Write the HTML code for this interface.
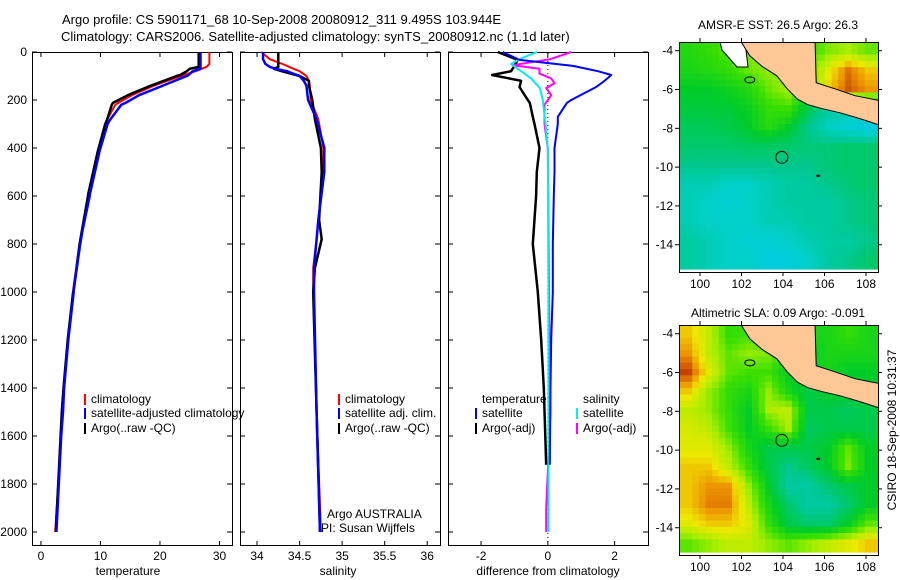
<!DOCTYPE html>
<html><head><meta charset="utf-8">
<style>
body{margin:0;background:#fff;}
svg{display:block;font-family:"Liberation Sans",sans-serif;font-size:12px;}
</style></head>
<body>
<svg id="fig" width="900" height="580" viewBox="0 0 900 580" xmlns="http://www.w3.org/2000/svg">
<text x="62" y="24" font-size="13">Argo profile: CS 5901171_68 10-Sep-2008 20080912_311 9.495S 103.944E</text>
<text x="61" y="41" font-size="13">Climatology: CARS2006. Satellite-adjusted climatology: synTS_20080912.nc (1.1d later)</text>
<text x="778" y="29" text-anchor="middle">AMSR-E SST: 26.5 Argo: 26.3</text>
<text x="778" y="317" text-anchor="middle">Altimetric SLA: 0.09 Argo: -0.091</text>
<text transform="translate(896,430) rotate(-90)" text-anchor="middle">CSIRO 18-Sep-2008 10:31:37</text>
<g id="plots"></g>
</svg>
<script>
// ---- profile data (depth in m) ----
const tDepth = [0, 50, 62, 70, 80, 96, 100, 137, 140, 180, 212, 220, 283, 300, 400, 408, 596, 600, 742, 800, 992, 1000, 1200, 1400, 1500, 1600, 1800, 2000];
const tArgo  = [26.5,26.5,26.5,25,24.5,23.4,22.8,18.8,18.5,14.6,12.1,11.9,11.1,10.8,9.7,9.6,7.9,7.9,6.9,6.5,5.5,5.4,4.5,3.8,3.5,3.3,2.9,2.5];
const tClim  = [28.3,28.3,27.8,27,26,24,23.5,19.3,19,15.3,13,12.5,11.1,10.9,9.7,9.6,8.0,8.0,6.9,6.5,5.4,5.4,4.6,3.9,3.6,3.3,2.9,2.4];
const tSat   = [26.8,26.8,26.8,26.8,25.5,24.8,24.5,20.8,20.5,16.5,14.2,13.5,11.6,11.2,10.0,9.9,8.2,8.2,7.0,6.6,5.5,5.5,4.6,3.9,3.7,3.4,3.0,2.6];

const sDepth = [0, 30, 50, 62, 70, 80, 100, 120, 140, 200, 280, 400, 500, 700, 780, 900, 1000, 1500, 2000];
const sArgo  = [34.25,34.25,34.25,34.25,34.2,34.29,34.5,34.61,34.61,34.65,34.68,34.75,34.76,34.73,34.76,34.68,34.66,34.70,34.74];
const sClim  = [34.05,34.15,34.3,34.38,34.43,34.5,34.58,34.61,34.62,34.63,34.72,34.78,34.78,34.72,34.70,34.66,34.66,34.70,34.75];
const sSat   = [34.07,34.07,34.1,34.15,34.22,34.35,34.5,34.55,34.58,34.6,34.7,34.79,34.79,34.72,34.70,34.67,34.67,34.70,34.74];

const dDepth   = [0, 33, 58, 80, 96, 120, 146, 200, 212, 270, 300, 400, 500, 600, 800, 1000, 1200, 1400, 1720];
const dTempSat = [-1.35,-0.85,0.75,1.5,1.9,1.7,1.45,0.7,0.57,0.3,0.3,0.2,0.2,0.18,0.15,0.15,0.1,0.08,0.06];
const dTempArgo= [-1.5,-0.9,-1.0,-1.1,-1.67,-0.8,-0.85,-0.6,-0.54,-0.45,-0.4,-0.25,-0.33,-0.35,-0.45,-0.3,-0.2,-0.12,-0.05];
const dSalDepth= [0, 30, 50, 80, 110, 150, 200, 300, 400, 1000, 2000];
const dSalSat  = [-0.33,-0.85,-1.1,-0.8,-0.5,-0.24,-0.15,-0.07,0.0,0.02,0.02];
const dSalArgoDepth=[0, 30, 55, 70, 90, 110, 130, 150, 180, 220, 300, 400, 1200, 1500, 1900, 2000];
const dSalArgo = [0.7,0.07,-1.05,-0.25,-0.25,0.1,0.2,-0.05,0.1,-0.1,-0.1,0,0.05,0.08,-0.05,-0.05];

// ---- axis tick labels ----
const depthTicks = [0,200,400,600,800,1000,1200,1400,1600,1800,2000];
const tTicks = [0,10,20,30];
const sTicks = ["34","34.5","35","35.5","36"];
const dTicks = [-2,0,2];
const latTicks = [-4,-6,-8,-10,-12,-14];
const lonTicks = [100,102,104,106,108];

// ---- map grids (normalized colour values, rows north->south, cols west->east) ----
const sstGrid = [
[0.57,0.6,0.65,0.68,0.72,0.7,0.6,0.68,0.72,0.66],
[0.55,0.57,0.6,0.66,0.7,0.7,0.65,0.8,0.93,0.85],
[0.5,0.5,0.53,0.57,0.66,0.72,0.6,0.85,0.95,0.9],
[0.47,0.47,0.48,0.52,0.6,0.62,0.45,0.3,0.3,0.25],
[0.43,0.43,0.45,0.5,0.58,0.5,0.35,0.22,0.15,0.1],
[0.4,0.4,0.4,0.42,0.42,0.4,0.38,0.38,0.4,0.4],
[0.35,0.35,0.35,0.35,0.35,0.35,0.35,0.38,0.4,0.4],
[0.25,0.25,0.2,0.2,0.25,0.3,0.3,0.35,0.38,0.4],
[0.25,0.2,0.15,0.2,0.25,0.3,0.3,0.3,0.35,0.38],
[0.25,0.2,0.2,0.2,0.25,0.25,0.3,0.3,0.35,0.38],
[0.3,0.25,0.2,0.15,0.15,0.2,0.25,0.3,0.3,0.35],
[0.3,0.25,0.2,0.2,0.1,0.1,0.2,0.3,0.35,0.4]];
const slaGrid = [
[0.85,0.75,0.6,0.62,0.6,0.55,0.55,0.55,0.6,0.55],
[0.9,0.75,0.65,0.7,0.68,0.6,0.5,0.55,0.55,0.55],
[0.97,0.8,0.65,0.62,0.62,0.5,0.5,0.55,0.5,0.5],
[0.85,0.7,0.6,0.55,0.7,0.55,0.45,0.5,0.5,0.5],
[0.75,0.7,0.6,0.5,0.72,0.75,0.45,0.45,0.42,0.45],
[0.78,0.75,0.62,0.5,0.6,0.72,0.42,0.45,0.45,0.45],
[0.8,0.8,0.7,0.55,0.45,0.45,0.45,0.5,0.65,0.5],
[0.85,0.85,0.75,0.6,0.45,0.35,0.42,0.5,0.68,0.5],
[0.85,0.9,0.9,0.7,0.5,0.3,0.3,0.4,0.45,0.5],
[0.85,0.92,0.92,0.75,0.55,0.4,0.3,0.3,0.4,0.5],
[0.8,0.85,0.85,0.8,0.6,0.45,0.4,0.4,0.5,0.65],
[0.65,0.7,0.75,0.75,0.7,0.65,0.7,0.75,0.8,0.85]];
const landLonLat = [[101.9,-3.4],[102.4,-4.26],[103,-4.82],[103.7,-5.29],[104.2,-5.96],[104.7,-6.5],[105.2,-6.78],[105.9,-6.99],[106.75,-7.2],[107.7,-7.5],[108.7,-7.85],[108.7,-6.58],[107.47,-6.32],[106.5,-5.96],[105.6,-5.65],[105.54,-3.4]];
const argoPos = [103.944,-9.495];

const NS='http://www.w3.org/2000/svg';
const root=document.getElementById('plots');
function mk(tag,attrs,parent){const e=document.createElementNS(NS,tag);for(const k in attrs)e.setAttribute(k,attrs[k]);(parent||root).appendChild(e);return e;}
const yD = d => 52 + d*0.24;
function panel(name,x0,x1,xmin,xmax){
  const sx = v => x0 + (v-xmin)/(xmax-xmin)*(x1-x0);
  const g=mk('g',{});
  
  
  return {sx,g,x0,x1};
}
function frame(p,name){
  const r=mk('rect',{x:p.x0+.5,y:52.5,width:p.x1-p.x0,height:493,fill:'none',stroke:'#000'},p.g);
  
  
}
function line(p,ds,vs,color,w,name){
  const pts=ds.map((d,i)=>p.sx(vs[i]).toFixed(1)+','+yD(d).toFixed(1)).join(' ');
  const l=mk('polyline',{points:pts,fill:'none',stroke:color,'stroke-width':w,'stroke-linejoin':'round'},p.g);
  
  
}
function txt(s,x,y,anchor,parent,name){
  const t=mk('text',{x:x,y:y,'text-anchor':anchor||'start'},parent);t.textContent=s;
  
  
  return t;
}
function xticks(p,vals,labels,name){
  vals.forEach((v,i)=>{const x=p.sx(v);
    mk('line',{x1:x,x2:x,y1:545,y2:541,stroke:'#000'},p.g);
    mk('line',{x1:x,x2:x,y1:53,y2:57,stroke:'#000'},p.g);
    txt(labels[i],x,560,'middle',p.g,name);});
}
function yticks(p){
  depthTicks.forEach(d=>{const y=yD(d);
    mk('line',{x1:p.x0,x2:p.x0+5,y1:y,y2:y,stroke:'#000'},p.g);
    mk('line',{x1:p.x1,x2:p.x1-5,y1:y,y2:y,stroke:'#000'},p.g);});
}
function legend(p,x,y,color,label,name){
  mk('rect',{x:x,y:y-9,width:2,height:11,fill:color},p.g);
  txt(label,x+7,y,'start',p.g,name);
}
// panel 1: temperature
const p1=panel('temperature-panel',32,232,-1.5,32.1);
frame(p1,'temperature-axes');
yticks(p1);
depthTicks.forEach(d=>txt(String(d),27,yD(d)+4,'end',p1.g,'depth-tick-label'));
xticks(p1,tTicks,tTicks.map(String),'temperature-tick-label');
txt('temperature',128,575,'middle',p1.g,'temperature-axis-title');
line(p1,tDepth,tClim,'#f00',2,'temperature-climatology-line');
line(p1,tDepth,tArgo,'#000',2.5,'temperature-argo-line');
line(p1,tDepth,tSat,'#00f',2.5,'temperature-satellite-line');
legend(p1,84,403,'#f00','climatology','legend-climatology');
legend(p1,84,417,'#00f','satellite-adjusted climatology','legend-satellite-adjusted');
legend(p1,84,432,'#000','Argo(..raw -QC)','legend-argo');
// panel 2: salinity
const p2=panel('salinity-panel',240,440,33.8,36.15);
frame(p2,'salinity-axes');
yticks(p2);
xticks(p2,sTicks.map(Number),sTicks,'salinity-tick-label');
txt('salinity',338,575,'middle',p2.g,'salinity-axis-title');
line(p2,sDepth,sClim,'#f00',2,'salinity-climatology-line');
line(p2,sDepth,sArgo,'#000',2.5,'salinity-argo-line');
line(p2,sDepth,sSat,'#00f',2.5,'salinity-satellite-line');
legend(p2,338,403,'#f00','climatology','legend-sal-climatology');
legend(p2,338,417,'#00f','satellite adj. clim.','legend-sal-satellite');
legend(p2,338,432,'#000','Argo(..raw -QC)','legend-sal-argo');
txt('Argo AUSTRALIA',327,518,'start',p2.g,'argo-australia-label');
txt('PI: Susan Wijffels',321,532,'start',p2.g,'pi-label');
// panel 3: difference
const p3=panel('difference-panel',448,648,-2.99,3.0);
frame(p3,'difference-axes');
yticks(p3);
mk('line',{x1:p3.sx(0),x2:p3.sx(0),y1:53,y2:545,stroke:'#000','stroke-dasharray':'1,3'},p3.g);
xticks(p3,dTicks,dTicks.map(String),'difference-tick-label');
txt('difference from climatology',548,575,'middle',p3.g,'difference-axis-title');
line(p3,dDepth,dTempArgo,'#000',2.5,'diff-temp-argo-line');
line(p3,dSalArgoDepth,dSalArgo,'#f0f',2,'diff-sal-argo-line');
line(p3,dSalDepth,dSalSat,'#0ee',2,'diff-sal-satellite-line');
line(p3,dDepth,dTempSat,'#00f',2,'diff-temp-satellite-line');
txt('temperature',482,403,'start',p3.g,'legend-temperature-header');
txt('salinity',583,403,'start',p3.g,'legend-salinity-header');
legend(p3,475,417,'#00f','satellite','legend-temp-satellite');
legend(p3,475,432,'#000','Argo(-adj)','legend-temp-argo');
legend(p3,576,417,'#0ee','satellite','legend-sal-satellite-diff');
legend(p3,576,432,'#f0f','Argo(-adj)','legend-sal-argo-diff');

// ---- maps ----
function cmap(v){
  const stops=[[0,[0,200,240]],[0.2,[0,208,200]],[0.35,[0,200,140]],[0.5,[0,204,40]],[0.62,[60,224,0]],[0.72,[170,238,0]],[0.82,[238,232,0]],[0.9,[238,150,0]],[1,[180,30,0]]];
  for(let i=1;i<stops.length;i++){if(v<=stops[i][0]){const a=stops[i-1],b=stops[i],t=(v-a[0])/(b[0]-a[0]);
    return 'rgb('+a[1].map((c,k)=>Math.round(c+(b[1][k]-c)*t)).join(',')+')';}}
  return 'rgb(180,30,0)';
}
function sample(grid,fr,fc){
  const R=grid.length,C=grid[0].length;
  let r=Math.max(0,Math.min(R-1,fr)),c=Math.max(0,Math.min(C-1,fc));
  const r0=Math.floor(r),c0=Math.floor(c),r1=Math.min(R-1,r0+1),c1=Math.min(C-1,c0+1),tr=r-r0,tc=c-c0;
  return grid[r0][c0]*(1-tr)*(1-tc)+grid[r0][c1]*(1-tr)*tc+grid[r1][c0]*tr*(1-tc)+grid[r1][c1]*tr*tc;
}
function mapPlot(name,top,grid,white){
  const x0=679,x1=878,bottom=top+230;
  const lonToX=l=>700+(l-100)*20.75;
  const lat0=-3.55;
  const latToY=la=>top+(lat0-la)*19.4;
  const g=mk('g',{});
  
  
  const cp=mk('clipPath',{id:name+'-clip'},g);
  mk('rect',{x:x0,y:top,width:x1-x0,height:bottom-top},cp);
  const inner=mk('g',{'clip-path':'url(#'+name+'-clip)'},g);
  const rows=grid.length,cols=grid[0].length,sub=3;
  const nr=rows*sub,nc=cols*sub,cw=(x1-x0)/nc,ch=(bottom-top-3)/nr;
  for(let r=0;r<nr;r++)for(let c=0;c<nc;c++){
    const v=sample(grid,(r+0.5)/sub-0.5,(c+0.5)/sub-0.5);
    const cell=mk('rect',{x:(x0+c*cw).toFixed(1),y:(top+r*ch).toFixed(1),width:(cw+0.6).toFixed(1),height:(ch+0.6).toFixed(1),fill:cmap(v)},inner);
    
    
  }
  if(white){mk('polygon',{points:'720,'+top+' 745,'+top+' 748,'+(top+25)+' 737,'+(top+25)+' 722,'+(top+8),fill:'#fff',stroke:'#000','stroke-width':1},inner);}
  const land=mk('polygon',{points:landLonLat.map(p=>lonToX(p[0]).toFixed(1)+','+latToY(p[1]).toFixed(1)).join(' '),fill:'#fdc896',stroke:'#000','stroke-width':1},inner);
  
  
  mk('ellipse',{cx:lonToX(102.4),cy:latToY(-5.5),rx:5,ry:3,fill:'none',stroke:'#000'},inner);
  mk('ellipse',{cx:lonToX(105.7),cy:latToY(-10.45),rx:2,ry:1.2,fill:'#000'},inner);
  const c=mk('circle',{cx:lonToX(argoPos[0]),cy:latToY(argoPos[1]),r:6,fill:'none',stroke:'#000'},g);
  
  
  mk('rect',{x:x0+.5,y:top+.5,width:x1-x0,height:bottom-top,fill:'none',stroke:'#000'},g);
  latTicks.forEach(la=>{const y=latToY(la);
    mk('line',{x1:x0-4,x2:x0,y1:y,y2:y,stroke:'#000'},g);
    mk('line',{x1:x1,x2:x1+4,y1:y,y2:y,stroke:'#000'},g);
    txt(String(la),x0-6,y+4,'end',g,'lat-tick-label');});
  lonTicks.forEach(lo=>{const x=lonToX(lo);
    mk('line',{x1:x,x2:x,y1:bottom,y2:bottom+4,stroke:'#000'},g);
    mk('line',{x1:x,x2:x,y1:top-4,y2:top,stroke:'#000'},g);
    txt(String(lo),x,bottom+16,'middle',g,'lon-tick-label');});
}
mapPlot('sst-map',42,sstGrid,true);
mapPlot('sla-map',325,slaGrid,false);
</script>
</body></html>
